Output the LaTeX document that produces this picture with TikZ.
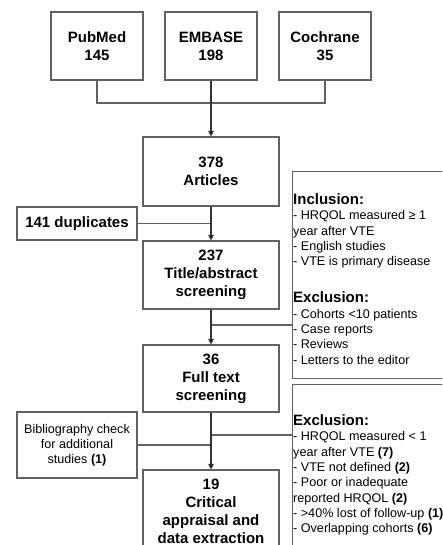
\documentclass[tikz,border=0pt]{standalone}
\usepackage{fontspec}
\setmainfont{Liberation Sans}
\usetikzlibrary{arrows.meta}
\begin{document}
\begin{tikzpicture}[x=1pt,y=-1pt,
  boxline/.style={draw=black!62,line width=1.1pt},
  stagebox/.style={boxline,fill=white,inner sep=0pt,align=center,
    font=\fontsize{15}{18}\selectfont\bfseries},
  notebox/.style={boxline,fill=white,inner sep=0pt,align=center,
    font=\fontsize{12.6}{15}\selectfont},
  framebox/.style={boxline,fill=white,inner sep=0pt,anchor=north west},
  listtext/.style={inner sep=0pt,anchor=north west,align=left,
    font=\fontsize{12.6}{15.3}\selectfont},
  conn/.style={draw=black!62,line width=1.1pt},
  flow/.style={draw=black!80,line width=1.1pt,-{Triangle[length=5.5pt,width=5.5pt,fill=black]}}]
\useasboundingbox (0,0) rectangle (442,545);
\clip (0,0) rectangle (442,545);

% sources
\node[stagebox,minimum width=92,minimum height=68] (pub) at (97,46) {PubMed\\145};
\node[stagebox,minimum width=92,minimum height=68] (emb) at (211,46) {EMBASE\\198};
\node[stagebox,minimum width=92,minimum height=68] (coch) at (325,46) {Cochrane\\35};

% main flow
\node[stagebox,minimum width=136,minimum height=69] (art) at (211,171.5) {378\\Articles};
\node[stagebox,minimum width=120,minimum height=33] (dup) at (77,223.5) {141 duplicates};
\node[stagebox,minimum width=136,minimum height=68] (scr) at (211,275) {237\\Title/abstract\\screening};
\node[stagebox,minimum width=136,minimum height=67] (ft) at (211,378.5) {36\\Full text\\screening};
\node[notebox,minimum width=120,minimum height=66] (bib) at (77,445)
  {Bibliography check\\for additional\\studies \textbf{(1)}};
\node[stagebox,minimum width=136,minimum height=82] (ca) at (211,511)
  {19\\Critical\\appraisal and\\data extraction};

% criteria boxes (their right side runs past the page edge)
\node[framebox,minimum width=160,minimum height=207] (inclbox) at (292,171) {};
\node[listtext] (incltext) at (293,193.6) {%
  {\fontsize{15}{15.3}\selectfont\bfseries Inclusion:}\\
  - HRQOL measured ≥ 1\\
  year after VTE\\
  - English studies\\
  - VTE is primary disease\\[21.7pt]
  {\fontsize{15}{15.3}\selectfont\bfseries Exclusion:}\\
  - Cohorts <10 patients\\
  - Case reports\\
  - Reviews\\
  - Letters to the editor};

\node[framebox,minimum width=160,minimum height=180] (exclbox) at (292,384) {};
\node[listtext] (excltext) at (293,414.6) {%
  {\fontsize{15}{15.3}\selectfont\bfseries Exclusion:}\\
  - HRQOL measured < 1\\
  year after VTE \textbf{(7)}\\
  - VTE not defined \textbf{(2)}\\
  - Poor or inadequate\\
  reported HRQOL \textbf{(2)}\\
  - >40\% lost of follow-up \textbf{(1)}\\
  - Overlapping cohorts \textbf{(6)}};

% connectors
\coordinate (srcjoin) at (211,103);
\draw[conn] (pub.south) |- (srcjoin) -| (coch.south);
\draw[conn] (dup.east) -- (dup.east -| art.south);
\coordinate (inclfeed) at (292,325);
\draw[conn] (inclfeed) -- (inclfeed -| scr.south);
\coordinate (exclfeed) at (292,435);
\draw[conn] (exclfeed) -- (exclfeed -| ft.south);
\draw[conn] (bib.east) -- (bib.east -| ft.south);
\draw[flow] (emb.south) -- (art.north);
\draw[flow] (art.south) -- (scr.north);
\draw[flow] (scr.south) -- (ft.north);
\draw[flow] (ft.south) -- (ca.north);
\end{tikzpicture}
\end{document}
